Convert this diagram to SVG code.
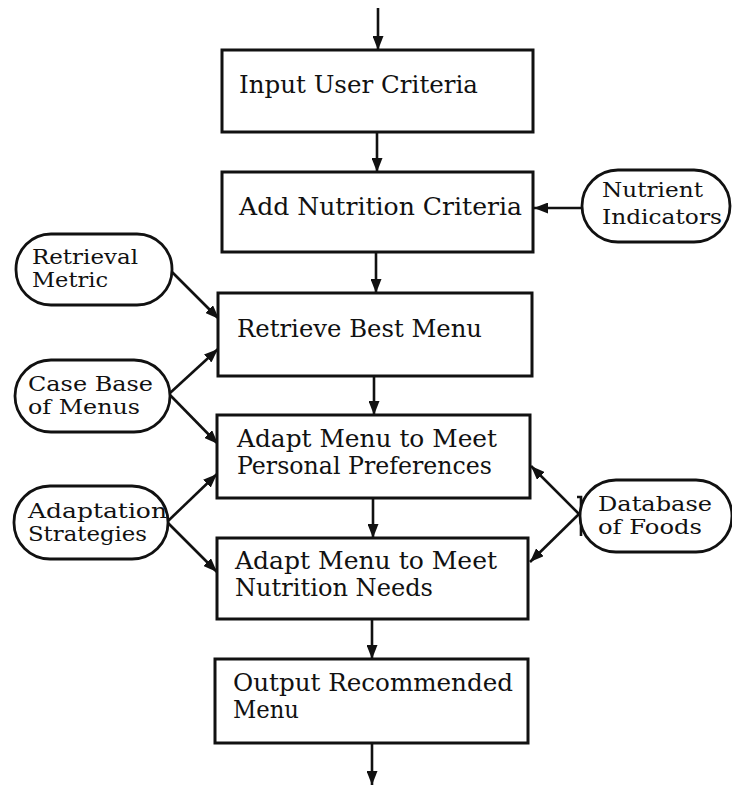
<svg xmlns="http://www.w3.org/2000/svg" width="732" height="785" viewBox="0 0 732 785">
  <style>
    .box { fill: #ffffff; stroke: #111111; stroke-width: 3; }
    .pill { fill: #ffffff; stroke: #111111; stroke-width: 2.8; }
    .lbl { font-family: "DejaVu Serif", "Liberation Serif", serif; font-size: 24px; fill: #111111; }
    .sm { font-size: 21px; }
    .wire { fill: none; stroke: #111111; stroke-width: 2.6; }
  </style>
  <defs>
    <marker id="head" markerUnits="userSpaceOnUse" markerWidth="15" markerHeight="11" refX="14" refY="5.5" orient="auto">
      <path d="M0,0 L14,5.5 L0,11 z" fill="#111111"/>
    </marker>
  </defs>
  <rect width="732" height="785" fill="#ffffff"/>

  <g id="connectors">
    <!-- main flow, top to bottom -->
    <line class="wire" x1="378" y1="8" x2="378" y2="50" marker-end="url(#head)"/>
    <line class="wire" x1="377" y1="132" x2="377" y2="172" marker-end="url(#head)"/>
    <line class="wire" x1="376" y1="252" x2="376" y2="293" marker-end="url(#head)"/>
    <line class="wire" x1="374" y1="376" x2="374" y2="415" marker-end="url(#head)"/>
    <line class="wire" x1="373" y1="498" x2="373" y2="538" marker-end="url(#head)"/>
    <line class="wire" x1="372" y1="619" x2="372" y2="659" marker-end="url(#head)"/>
    <line class="wire" x1="372" y1="743" x2="372" y2="785" marker-end="url(#head)"/>
    <!-- side inputs -->
    <line class="wire" x1="582" y1="208" x2="534" y2="208" marker-end="url(#head)"/>
    <line class="wire" x1="172" y1="272" x2="219" y2="319" marker-end="url(#head)"/>
    <line class="wire" x1="170" y1="393" x2="218" y2="349" marker-end="url(#head)"/>
    <line class="wire" x1="170" y1="395" x2="218" y2="444" marker-end="url(#head)"/>
    <line class="wire" x1="168" y1="521" x2="217" y2="474" marker-end="url(#head)"/>
    <line class="wire" x1="168" y1="523" x2="217" y2="572" marker-end="url(#head)"/>
    <line class="wire" x1="579" y1="514" x2="531" y2="466" marker-end="url(#head)"/>
    <line class="wire" x1="579" y1="514" x2="530" y2="562" marker-end="url(#head)"/>
    <path class="wire" d="M577,497 H581 V536"/>
  </g>

  <g id="input-user-criteria">
    <rect class="box" x="222" y="50" width="311" height="82"/>
    <text class="lbl" x="239" y="93" textLength="239" lengthAdjust="spacingAndGlyphs">Input User Criteria</text>
  </g>

  <g id="add-nutrition-criteria">
    <rect class="box" x="222" y="172" width="311" height="80"/>
    <text class="lbl" x="239" y="215" textLength="283" lengthAdjust="spacingAndGlyphs">Add Nutrition Criteria</text>
  </g>

  <g id="retrieve-best-menu">
    <rect class="box" x="218" y="293" width="314" height="83"/>
    <text class="lbl" x="237" y="337" textLength="245" lengthAdjust="spacingAndGlyphs">Retrieve Best Menu</text>
  </g>

  <g id="adapt-preferences">
    <rect class="box" x="217" y="415" width="313" height="83"/>
    <text class="lbl" x="237" y="447" textLength="260" lengthAdjust="spacingAndGlyphs">Adapt Menu to Meet</text>
    <text class="lbl" x="237" y="474" textLength="255" lengthAdjust="spacingAndGlyphs">Personal Preferences</text>
  </g>

  <g id="adapt-nutrition">
    <rect class="box" x="217" y="538" width="311" height="81"/>
    <text class="lbl" x="235" y="569" textLength="262" lengthAdjust="spacingAndGlyphs">Adapt Menu to Meet</text>
    <text class="lbl" x="235" y="596" textLength="198" lengthAdjust="spacingAndGlyphs">Nutrition Needs</text>
  </g>

  <g id="output-menu">
    <rect class="box" x="215" y="659" width="313" height="84"/>
    <text class="lbl" x="233" y="691" textLength="280" lengthAdjust="spacingAndGlyphs">Output Recommended</text>
    <text class="lbl" x="233" y="718" textLength="66" lengthAdjust="spacingAndGlyphs">Menu</text>
  </g>

  <g id="nutrient-indicators">
    <rect class="pill" x="582" y="170" width="148" height="72" rx="36"/>
    <text class="lbl sm" x="602" y="197" textLength="101" lengthAdjust="spacingAndGlyphs">Nutrient</text>
    <text class="lbl sm" x="602" y="224" textLength="120" lengthAdjust="spacingAndGlyphs">Indicators</text>
  </g>

  <g id="retrieval-metric">
    <rect class="pill" x="16" y="234" width="156" height="71" rx="35"/>
    <text class="lbl sm" x="32" y="264" textLength="106" lengthAdjust="spacingAndGlyphs">Retrieval</text>
    <text class="lbl sm" x="32" y="287" textLength="76" lengthAdjust="spacingAndGlyphs">Metric</text>
  </g>

  <g id="case-base">
    <rect class="pill" x="15" y="360" width="155" height="72" rx="36"/>
    <text class="lbl sm" x="28" y="391" textLength="125" lengthAdjust="spacingAndGlyphs">Case Base</text>
    <text class="lbl sm" x="28" y="414" textLength="112" lengthAdjust="spacingAndGlyphs">of Menus</text>
  </g>

  <g id="adaptation-strategies">
    <rect class="pill" x="14" y="486" width="154" height="73" rx="36"/>
    <text class="lbl sm" x="28" y="518" textLength="139" lengthAdjust="spacingAndGlyphs">Adaptation</text>
    <text class="lbl sm" x="28" y="541" textLength="119" lengthAdjust="spacingAndGlyphs">Strategies</text>
  </g>

  <g id="database-of-foods">
    <rect class="pill" x="580" y="480" width="152" height="72" rx="36"/>
    <text class="lbl sm" x="598" y="511" textLength="114" lengthAdjust="spacingAndGlyphs">Database</text>
    <text class="lbl sm" x="598" y="534" textLength="104" lengthAdjust="spacingAndGlyphs">of Foods</text>
  </g>
</svg>
